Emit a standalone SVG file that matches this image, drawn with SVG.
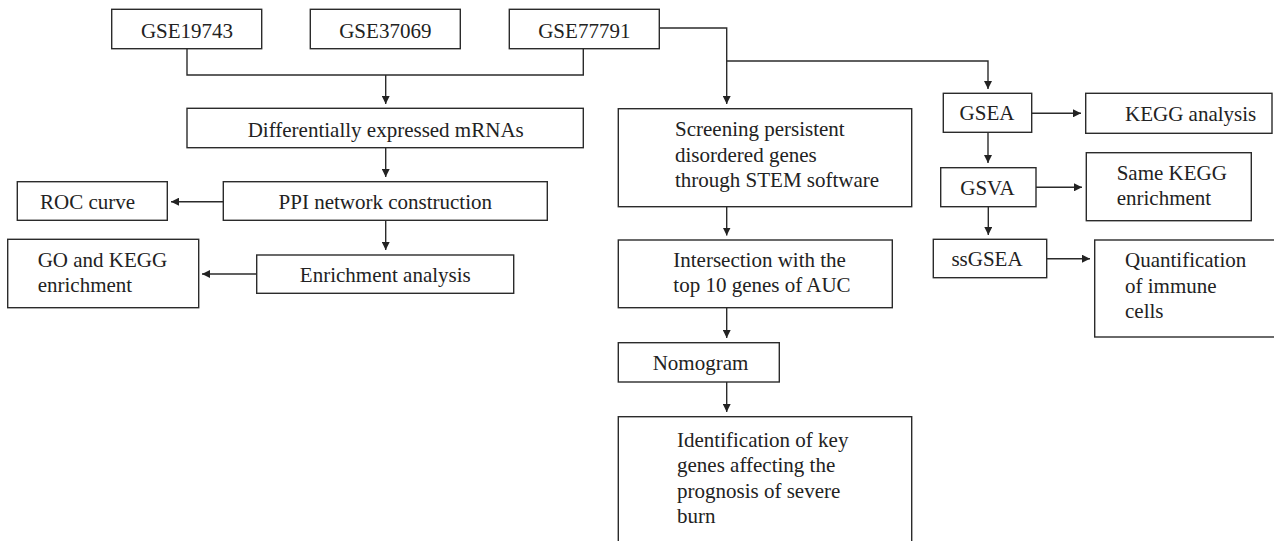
<svg xmlns="http://www.w3.org/2000/svg" width="1274" height="541" viewBox="0 0 1274 541">
<style>
.box{fill:#fff;stroke:#2b2b2b;stroke-width:1.4}
.t{font-family:"Liberation Serif",serif;font-size:21px;fill:#222}
.c{text-anchor:middle}
.ln{fill:none;stroke:#2b2b2b;stroke-width:1.4}
</style>
<defs>
<marker id="ah" viewBox="0 0 10 10" refX="10" refY="5" markerWidth="8" markerHeight="8" markerUnits="userSpaceOnUse" orient="auto">
<path d="M0,0 L10,5 L0,10 z" fill="#222"/>
</marker>
</defs>
<rect width="1274" height="541" fill="#fff"/>
<g id="connectors">
<path class="ln" d="M187,49 V75 H583.3 V49"/>
<path class="ln" d="M385.7,75 V104" marker-end="url(#ah)"/>
<path class="ln" d="M385.7,147.7 V177" marker-end="url(#ah)"/>
<path class="ln" d="M223.3,201.7 H171" marker-end="url(#ah)"/>
<path class="ln" d="M385.7,220.3 V250" marker-end="url(#ah)"/>
<path class="ln" d="M256.7,274 H202" marker-end="url(#ah)"/>
<path class="ln" d="M659.3,28 H726.7 V104" marker-end="url(#ah)"/>
<path class="ln" d="M726.7,61 H988 V89" marker-end="url(#ah)"/>
<path class="ln" d="M1031.7,113.3 H1081" marker-end="url(#ah)"/>
<path class="ln" d="M988,132.3 V163" marker-end="url(#ah)"/>
<path class="ln" d="M1036,187.3 H1082" marker-end="url(#ah)"/>
<path class="ln" d="M988.3,206.7 V235" marker-end="url(#ah)"/>
<path class="ln" d="M1046.7,258.7 H1090" marker-end="url(#ah)"/>
<path class="ln" d="M726.7,206.7 V235.5" marker-end="url(#ah)"/>
<path class="ln" d="M726.7,307.7 V338" marker-end="url(#ah)"/>
<path class="ln" d="M726.7,382 V412" marker-end="url(#ah)"/>
</g>
<g id="gse19743"><rect class="box" x="111.7" y="9.3" width="150" height="39.4"/><text class="t c" x="187" y="37.5">GSE19743</text></g>
<g id="gse37069"><rect class="box" x="310.3" y="9.3" width="150" height="39.4"/><text class="t c" x="385.3" y="37.5">GSE37069</text></g>
<g id="gse77791"><rect class="box" x="509.3" y="9.3" width="150" height="39.4"/><text class="t c" x="584.3" y="37.5">GSE77791</text></g>
<g id="dem"><rect class="box" x="187" y="108.3" width="396.3" height="39.4"/><text class="t c" x="385.7" y="136.5">Differentially expressed mRNAs</text></g>
<g id="ppi"><rect class="box" x="223.3" y="181.7" width="324" height="38.6"/><text class="t c" x="385.3" y="209.3">PPI network construction</text></g>
<g id="roc"><rect class="box" x="17.3" y="181.7" width="150" height="38.6"/><text class="t" x="40" y="209.3">ROC curve</text></g>
<g id="enrich"><rect class="box" x="256.7" y="255" width="257" height="38.3"/><text class="t c" x="385.3" y="282.3">Enrichment analysis</text></g>
<g id="gokegg"><rect class="box" x="7.7" y="239.3" width="191" height="68.4"/><text class="t" x="37.7" y="267.3">GO and KEGG</text><text class="t" x="37.7" y="291.7">enrichment</text></g>
<g id="screening"><rect class="box" x="618.3" y="108.7" width="293.4" height="98"/><text class="t" x="675" y="136">Screening persistent</text><text class="t" x="675" y="161.7">disordered genes</text><text class="t" x="675" y="187.3">through STEM software</text></g>
<g id="intersection"><rect class="box" x="618.3" y="240" width="274" height="67.7"/><text class="t" x="673.3" y="266.7">Intersection with the</text><text class="t" x="673.3" y="292">top 10 genes of AUC</text></g>
<g id="nomogram"><rect class="box" x="618.3" y="342.7" width="161" height="39.3"/><text class="t c" x="700.5" y="370">Nomogram</text></g>
<g id="identification"><rect class="box" x="618.3" y="416.7" width="293.4" height="140"/><text class="t" x="677" y="446.7">Identification of key</text><text class="t" x="677" y="472.3">genes affecting the</text><text class="t" x="677" y="497.8">prognosis of severe</text><text class="t" x="677" y="523.3">burn</text></g>
<g id="gsea"><rect class="box" x="943.3" y="93.3" width="88.4" height="39"/><text class="t c" x="987" y="120.3">GSEA</text></g>
<g id="kegg"><rect class="box" x="1085.7" y="93.3" width="186.3" height="40"/><text class="t" x="1125" y="120.5">KEGG analysis</text></g>
<g id="gsva"><rect class="box" x="940.7" y="167.7" width="95.3" height="39"/><text class="t c" x="987.5" y="194.7">GSVA</text></g>
<g id="samekegg"><rect class="box" x="1086.3" y="152.7" width="165" height="68"/><text class="t" x="1116.7" y="180">Same KEGG</text><text class="t" x="1116.7" y="205">enrichment</text></g>
<g id="ssgsea"><rect class="box" x="933.3" y="239.3" width="113.4" height="38.4"/><text class="t c" x="987" y="266.3">ssGSEA</text></g>
<g id="quant"><rect class="box" x="1094.7" y="240" width="190" height="97"/><text class="t" x="1125" y="266.7">Quantification</text><text class="t" x="1125" y="292.5">of immune</text><text class="t" x="1125" y="318.3">cells</text></g>
</svg>
